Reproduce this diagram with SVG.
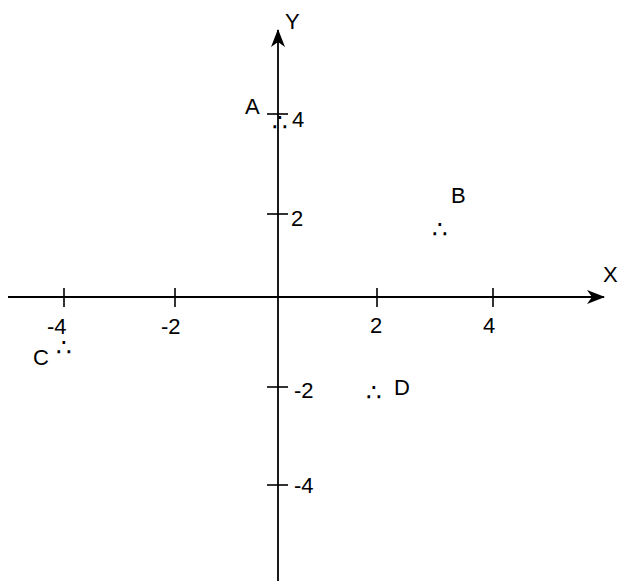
<svg xmlns="http://www.w3.org/2000/svg" width="618" height="581" viewBox="0 0 618 581">
<style>
.ax{stroke:#000;stroke-width:1.8;fill:none}
.tk{stroke:#000;stroke-width:1.6}
.lb{font-family:"Liberation Sans",Arial,sans-serif;font-size:22px;fill:#000}
.pt{font-family:"DejaVu Sans",sans-serif;font-size:25px;fill:#000;text-anchor:middle}
</style>
<defs>
<marker id="arr" markerWidth="20" markerHeight="14" refX="17" refY="7" orient="auto" markerUnits="userSpaceOnUse">
<path d="M0,0 L18,7 L0,14 L5,7 Z" fill="#000"/>
</marker>
</defs>
<rect width="618" height="581" fill="#fff"/>
<g id="connectors">
<line class="ax" x1="8" y1="297" x2="604" y2="297" marker-end="url(#arr)"/>
<line class="ax" x1="278" y1="581" x2="278" y2="30" marker-end="url(#arr)"/>
<line class="tk" x1="64" y1="288" x2="64" y2="307"/>
<line class="tk" x1="175" y1="288" x2="175" y2="307"/>
<line class="tk" x1="377" y1="288" x2="377" y2="307"/>
<line class="tk" x1="493" y1="288" x2="493" y2="307"/>
<line class="tk" x1="267" y1="114" x2="288" y2="114"/>
<line class="tk" x1="267" y1="214" x2="288" y2="214"/>
<line class="tk" x1="267" y1="387" x2="288" y2="387"/>
<line class="tk" x1="267" y1="485" x2="288" y2="485"/>
</g>
<g id="axis-labels">
<text class="lb" x="285" y="29">Y</text>
<text class="lb" x="603" y="282">X</text>
<text class="lb" x="47" y="334">-4</text>
<text class="lb" x="161" y="334">-2</text>
<text class="lb" x="370" y="333">2</text>
<text class="lb" x="483" y="333">4</text>
<text class="lb" x="292" y="127">4</text>
<text class="lb" x="291" y="226">2</text>
<text class="lb" x="294" y="398">-2</text>
<text class="lb" x="294" y="493">-4</text>
</g>
<g id="A">
<text class="lb" x="245" y="114">A</text>
<text class="pt" x="280" y="131">∴</text>
</g>
<g id="B">
<text class="lb" x="451" y="203">B</text>
<text class="pt" x="440" y="238">∴</text>
</g>
<g id="C">
<text class="lb" x="33" y="365">C</text>
<text class="pt" x="64" y="356">∴</text>
</g>
<g id="D">
<text class="lb" x="394" y="395">D</text>
<text class="pt" x="374" y="401">∴</text>
</g>
</svg>
